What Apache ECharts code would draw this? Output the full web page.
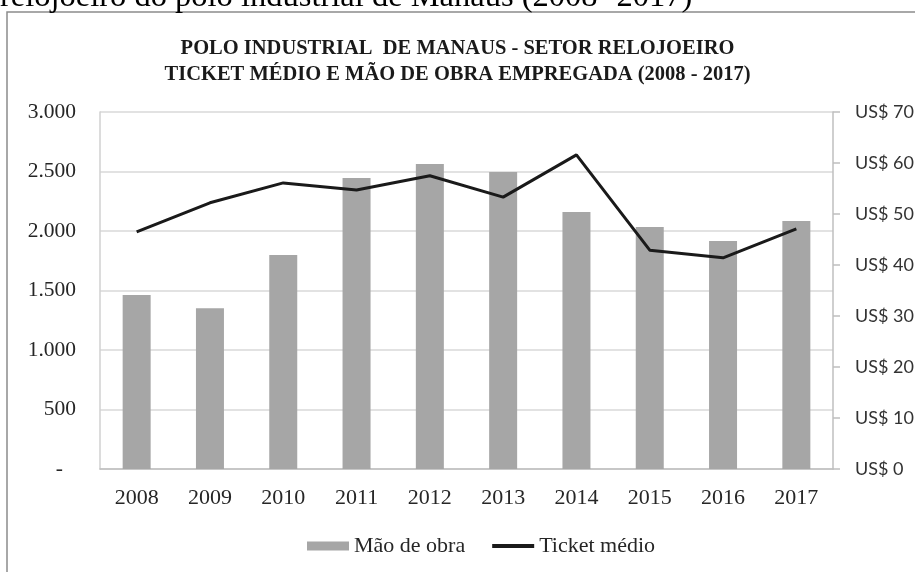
<!DOCTYPE html>
<html><head><meta charset="utf-8">
<script src="https://cdn.jsdelivr.net/npm/echarts@6/dist/echarts.min.js"></script>
<style>html,body{margin:0;padding:0;background:#fff}#c{width:915px;height:572px}</style>
</head><body><div id="c"></div>
<script>
const years = ['2008','2009','2010','2011','2012','2013','2014','2015','2016','2017'];
const maoDeObra = [1462, 1350, 1798, 2445, 2563, 2496, 2160, 2034, 1916, 2084];
const ticketMedio = [46.5, 52.2, 56.1, 54.7, 57.5, 53.3, 61.6, 42.9, 41.4, 47.1];
const leftTicks = ['-', '500', '1.000', '1.500', '2.000', '2.500', '3.000'];
const titleLines = ['POLO INDUSTRIAL  DE MANAUS - SETOR RELOJOEIRO', 'TICKET MÉDIO E MÃO DE OBRA EMPREGADA (2008 - 2017)'];
const topText = 'relojoeiro do polo industrial de Manaus (2008- 2017)';

const serif = '"Liberation Serif", "Times New Roman", serif';
const chart = echarts.init(document.getElementById('c'));
chart.setOption({
  animation: false,
  backgroundColor: '#fff',
  title: {
    text: titleLines.join('\n'),
    left: 'center', top: 31,
    textStyle: { fontFamily: serif, fontWeight: 'bold', fontSize: 20.5, color: '#1a1a1a', lineHeight: 26 }
  },
  graphic: [
    { type: 'rect', shape: { x: 7, y: 12, width: 920, height: 580 }, style: { fill: 'none', stroke: '#8c8c8c', lineWidth: 1.5 }, silent: true },
    { type: 'text', x: 0, y: -19, style: { text: topText, font: '32.5px ' + serif, fill: '#000' } }
  ],
  grid: { left: 100, right: 82, top: 112, bottom: 103, containLabel: false, outerBoundsMode: 'none' },
  legend: {
    top: 530, left: 302,
    itemWidth: 42, itemHeight: 9, itemGap: 27,
    textStyle: { fontFamily: serif, fontSize: 22, color: '#262626' },
    data: [
      { name: 'Mão de obra', icon: 'rect' },
      { name: 'Ticket médio', icon: 'path://M0,0H42V4H0Z' }
    ]
  },
  xAxis: {
    type: 'category', data: years,
    axisLine: { lineStyle: { color: '#bfbfbf', width: 1.5 } },
    axisTick: { show: false },
    axisLabel: { fontFamily: serif, fontSize: 22, color: '#262626', margin: 18 }
  },
  yAxis: [
    {
      type: 'value', min: 0, max: 3000, interval: 500,
      axisLine: { show: true, lineStyle: { color: '#d0d0d0', width: 1.5 } },
      axisTick: { show: false },
      splitLine: { lineStyle: { color: '#d9d9d9', width: 1.5 } },
      axisLabel: { fontFamily: serif, fontSize: 21.5, color: '#262626', margin: 24,
        formatter: v => v === 0 ? '{d|' + leftTicks[0] + '}' : leftTicks[Math.round(v / 500)],
        rich: { d: { fontFamily: serif, fontSize: 21.5, color: '#262626', padding: [0, 13, 0, 0] } } }
    },
    {
      type: 'value', min: 0, max: 70, interval: 10, position: 'right',
      axisLine: { show: true, lineStyle: { color: '#bfbfbf', width: 1.5 } },
      axisTick: { show: true, length: 7, lineStyle: { color: '#bfbfbf', width: 1.5 } },
      splitLine: { show: false },
      axisLabel: { fontFamily: 'Lato, "Open Sans", sans-serif', fontSize: 18, color: '#333', margin: 22,
        formatter: v => 'US$ ' + v }
    }
  ],
  series: [
    { name: 'Mão de obra', type: 'bar', data: maoDeObra, yAxisIndex: 0, barWidth: 28,
      itemStyle: { color: '#a6a6a6' } },
    { name: 'Ticket médio', type: 'line', data: ticketMedio, yAxisIndex: 1, symbol: 'none',
      lineStyle: { color: '#1a1a1a', width: 3 }, itemStyle: { color: '#1a1a1a' } }
  ]
});
</script></body></html>
